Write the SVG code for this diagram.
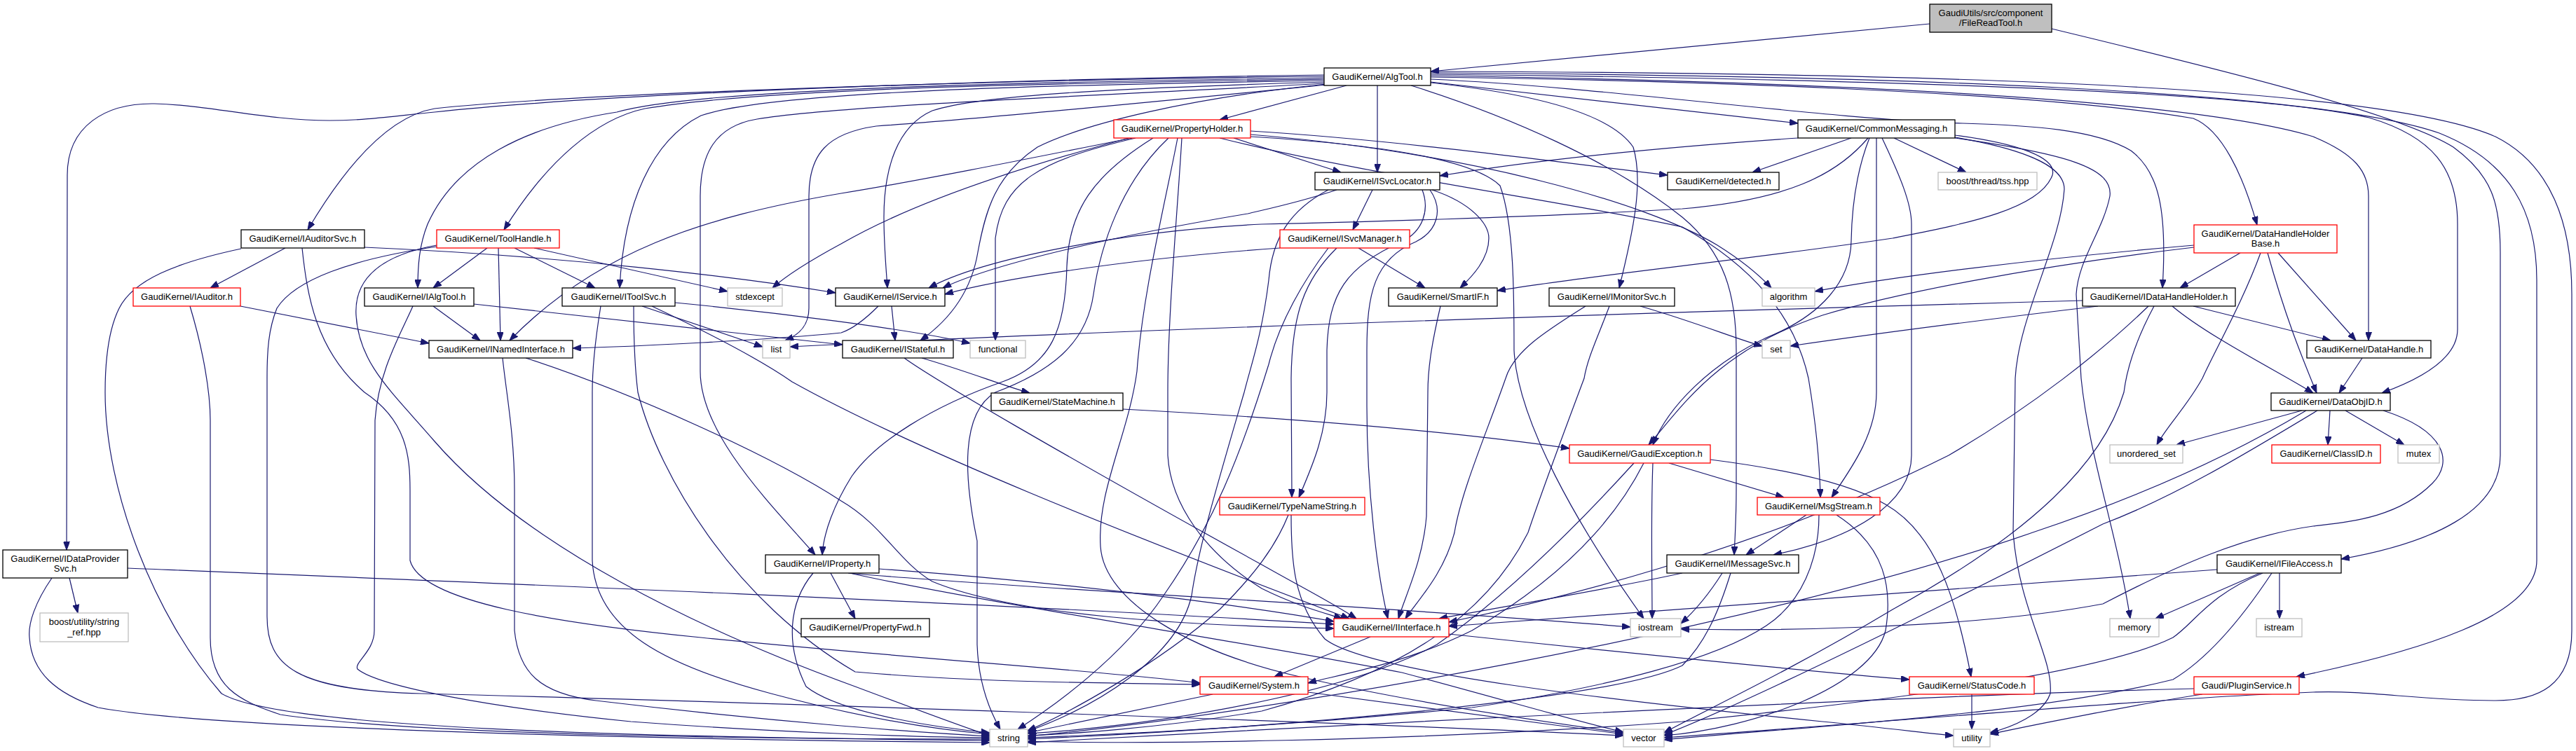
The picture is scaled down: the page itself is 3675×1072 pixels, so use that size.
<svg xmlns="http://www.w3.org/2000/svg" width="3675" height="1072" viewBox="0 0 3675 1072">
<style>
.n rect{fill:#fff;stroke:#000;stroke-width:1.3}
.n.r rect{stroke:#f00}
.n.g rect{stroke:#bfbfbf}
.n.root rect{fill:#bfbfbf}
text{font-family:"Liberation Sans",Arial,sans-serif;font-size:13px;text-anchor:middle;fill:#000}
#edges path{fill:none;stroke:#191970;stroke-width:1.2;marker-end:url(#a)}
</style>
<defs>
<marker id="a" markerWidth="12" markerHeight="9" refX="12" refY="4.5" orient="auto" markerUnits="userSpaceOnUse"><path d="M0,0 L12,4.5 L0,9 z" fill="#191970" stroke="#191970" stroke-width="1"/></marker>
</defs>
<rect width="3675" height="1072" fill="#fff"/>
<g id="edges">
<path d="M2753,34 L2041,102"/>
<path d="M2927,41 C3150,95 3420,160 3500,210 C3555,250 3567,290 3567,360 L3567,650 C3567,730 3470,775 3340,798"/>
<path d="M1921,122 L1740,171"/>
<path d="M2041,117 L2565,176"/>
<path d="M1965,122 L1965,246"/>
<path d="M1889,107 C1500,112 900,130 620,160 C560,166 520,172 470,172 C380,172 300,150 220,148 C150,147 96,180 96,250 L95,785"/>
<path d="M1889,109 C1400,114 800,135 620,155 C560,165 500,225 439,328"/>
<path d="M1889,111 C1500,117 1000,125 880,160 C750,180 650,230 610,320 C598,350 596,380 596,411"/>
<path d="M1889,113 C1500,119 1100,125 920,155 C850,170 780,230 719,328"/>
<path d="M1889,115 C1500,121 1100,130 1000,165 C930,200 890,290 884,411"/>
<path d="M1893,121 C1700,140 1400,170 1250,180 C1180,190 1154,220 1154,280 L1154,440 C1154,465 1140,478 1120,486"/>
<path d="M1890,117 C1600,126 1400,135 1330,158 C1280,180 1261,240 1261,310 C1261,350 1264,380 1266,411"/>
<path d="M1892,120 C1700,140 1550,175 1480,210 C1420,250 1406,300 1395,360 C1385,420 1350,460 1313,486"/>
<path d="M1890,119 C1600,135 1200,150 1080,170 C1020,180 999,220 999,280 L999,530 C999,620 1100,720 1163,792"/>
<path d="M2041,118 C2200,135 2300,165 2330,210 C2345,260 2330,330 2310,411"/>
<path d="M2013,122 C2150,165 2300,230 2400,310 C2460,360 2477,420 2477,500 L2477,700 C2477,740 2475,770 2474,792"/>
<path d="M2041,110 C2400,115 2900,130 3129,169 C3170,185 3200,250 3220,321"/>
<path d="M2041,113 C2300,125 2600,170 2800,176 C2900,179 2990,185 3040,215 C3080,245 3092,300 3085,411"/>
<path d="M2041,108 C2500,115 3100,135 3300,195 C3360,220 3379,245 3379,280 L3379,486"/>
<path d="M2041,106 C2600,112 3200,128 3380,168 C3470,195 3506,240 3506,320 L3506,470 C3506,505 3470,535 3398,561"/>
<path d="M2041,104 C2700,108 3300,128 3480,190 C3580,230 3619,300 3619,400 L3619,800 C3619,880 3450,930 3276,966"/>
<path d="M2041,102 C2800,104 3400,125 3560,195 C3640,235 3669,320 3669,420 L3669,900 C3669,980 3620,1000 3560,1000 C3450,1000 3380,985 3300,988 C3100,995 2700,1030 2374,1053"/>
<path d="M1760,197 L1913,246"/>
<path d="M1784,187 C2000,200 2250,235 2379,250"/>
<path d="M1784,192 C2100,218 2350,290 2450,350 C2490,375 2512,395 2527,411"/>
<path d="M1740,197 C1950,250 2250,290 2400,324 C2500,380 2560,450 2580,540 C2590,600 2596,660 2597,710"/>
<path d="M1611,197 C1450,240 1300,290 1200,348 C1150,375 1120,395 1102,411"/>
<path d="M1615,197 C1450,230 1300,260 1200,276 C1000,310 850,360 727,486"/>
<path d="M1620,197 C1480,230 1430,260 1420,340 L1420,486"/>
<path d="M1645,197 C1560,250 1525,300 1522,380 C1520,470 1500,520 1430,545 C1330,580 1250,630 1215,680 C1190,720 1175,760 1173,792"/>
<path d="M1667,197 C1600,260 1570,350 1560,420 C1550,490 1500,530 1420,560 C1370,590 1375,680 1394,772 L1394,920 C1396,980 1415,1020 1427,1041"/>
<path d="M1680,197 C1660,300 1630,420 1622,530 C1610,620 1565,700 1570,780 C1575,860 1700,930 1850,965 C2000,1000 2200,1030 2316,1046"/>
<path d="M1686,197 C1680,300 1666,450 1666,560 L1666,650 C1670,720 1720,790 1800,840 C1850,865 1890,875 1915,883"/>
<path d="M1784,195 C1950,205 2100,225 2140,265 C2160,320 2160,420 2160,500 C2165,600 2250,750 2345,883"/>
<path d="M2565,197 C2300,215 2150,235 2054,251"/>
<path d="M2641,197 L2500,246"/>
<path d="M2702,197 L2805,246"/>
<path d="M2665,197 C2620,250 2550,285 2400,298 C2200,310 1900,318 1800,320 C1600,330 1400,370 1325,411"/>
<path d="M2789,193 C2880,205 2935,225 2928,250 C2910,300 2800,320 2700,340 C2500,370 2250,395 2136,415"/>
<path d="M2667,197 C2650,240 2642,290 2641,344 C2640,400 2600,450 2520,482 C2440,520 2380,580 2358,635"/>
<path d="M2677,197 L2677,560 C2677,620 2640,670 2613,710"/>
<path d="M2685,197 C2710,250 2727,290 2727,320 L2727,650 C2727,720 2640,770 2530,792"/>
<path d="M2789,196 C2900,215 2945,240 2945,270 C2940,350 2880,450 2875,540 L2872,760 C2880,870 2930,940 2925,990 C2915,1020 2870,1038 2839,1046"/>
<path d="M2789,197 C2950,220 3015,240 3010,280 C3000,330 2965,370 2962,420 L2969,540 C2980,650 3020,760 3039,883"/>
<path d="M1958,271 L1930,328"/>
<path d="M2043,271 C2100,290 2124,320 2124,340 C2124,370 2100,395 2083,411"/>
<path d="M1907,271 C1850,290 1800,300 1780,305 C1600,335 1420,375 1345,411"/>
<path d="M2029,271 C2040,300 2030,330 2000,345 C1920,380 1895,420 1893,500 L1893,560 C1893,620 1870,670 1853,710"/>
<path d="M2040,271 C2060,300 2050,330 2020,345 C1960,370 1950,420 1950,500 L1950,580 C1950,700 1965,820 1980,883"/>
<path d="M1895,271 C1840,300 1815,340 1810,400 C1800,480 1785,520 1775,560 C1740,680 1710,780 1700,850 C1680,940 1560,1010 1466,1044"/>
<path d="M1826,354 C1600,370 1420,400 1348,420"/>
<path d="M1938,354 L2033,411"/>
<path d="M1907,354 C1860,400 1843,450 1842,540 L1843,710"/>
<path d="M1895,354 C1860,400 1825,460 1810,520 C1770,650 1730,750 1660,850 C1600,940 1500,1010 1452,1041"/>
<path d="M407,354 L300,411"/>
<path d="M520,353 C800,365 1050,395 1192,418"/>
<path d="M344,355 C250,375 190,400 170,440 C150,480 150,540 150,560 C150,700 220,880 316,990 C400,1040 900,1052 1412,1057"/>
<path d="M431,354 C438,420 450,500 520,560 C580,600 585,650 585,700 L585,800 C600,860 800,890 1000,910 C1300,940 1600,960 1712,975"/>
<path d="M343,437 L612,490"/>
<path d="M271,437 C290,500 300,560 300,600 L300,910 C300,980 340,1000 400,1020 C600,1050 1100,1055 1412,1055"/>
<path d="M618,437 L685,486"/>
<path d="M676,434 C900,460 1100,480 1202,492"/>
<path d="M589,437 C570,480 540,530 535,600 L534,900 C534,930 505,945 510,955 C540,980 700,1010 900,1030 C1100,1045 1300,1052 1412,1053"/>
<path d="M695,354 L618,411"/>
<path d="M711,354 L714,486"/>
<path d="M734,354 L849,411"/>
<path d="M762,354 L1038,416"/>
<path d="M623,350 C540,365 505,400 508,450 C512,520 560,560 620,630 C750,780 1000,900 1220,980 C1300,1010 1380,1040 1412,1050"/>
<path d="M623,352 C500,370 420,400 395,440 C383,470 381,500 381,540 L381,880 C381,950 420,985 600,990 C1000,1000 1900,1030 2316,1050"/>
<path d="M916,437 L1088,495"/>
<path d="M963,432 C1100,445 1300,470 1384,490"/>
<path d="M857,437 C850,480 845,520 845,560 L845,800 C850,900 950,950 1100,990 C1250,1030 1350,1043 1412,1048"/>
<path d="M904,437 C904,480 905,520 910,560 C940,680 1050,860 1220,959 C1400,975 1600,975 1712,977"/>
<path d="M930,437 C1000,470 1080,510 1130,545 C1300,640 1600,760 1925,883"/>
<path d="M1272,437 L1277,486"/>
<path d="M1253,437 C1230,460 1215,470 1200,475 C1100,485 900,495 817,497"/>
<path d="M1315,511 C1380,530 1430,550 1469,561"/>
<path d="M1290,511 C1330,540 1500,640 1800,806 C1860,840 1900,860 1935,883"/>
<path d="M1602,584 C1900,600 2100,620 2239,640"/>
<path d="M2055,437 C2045,480 2037,520 2037,560 L2035,737 C2030,800 2005,850 1995,883"/>
<path d="M2340,437 C2420,460 2480,485 2514,494"/>
<path d="M2262,437 C2210,470 2160,500 2148,540 C2120,620 2085,700 2075,760 C2060,820 2020,860 2005,883"/>
<path d="M2296,437 C2280,480 2265,510 2260,540 C2230,620 2200,700 2180,760 C2120,880 2000,960 1800,1015 C1650,1040 1520,1048 1466,1050"/>
<path d="M2381,661 L2545,710"/>
<path d="M2358,661 C2355,740 2357,820 2357,883"/>
<path d="M2440,656 C2550,670 2640,690 2690,720 C2760,760 2790,850 2812,966"/>
<path d="M2331,661 C2250,750 2150,850 2050,920 C1900,1000 1600,1040 1466,1047"/>
<path d="M2345,661 C2300,750 2220,830 2100,900 C2000,950 1900,965 1866,975"/>
<path d="M1838,735 C1820,780 1790,820 1740,870 C1650,950 1520,1020 1466,1043"/>
<path d="M1842,735 C1842,800 1845,860 1890,912 C1950,960 2300,1000 2600,1030 C2700,1040 2760,1048 2787,1050"/>
<path d="M2577,735 L2491,792"/>
<path d="M2595,735 C2595,800 2570,860 2520,893 C2450,940 2300,980 2100,1010 C1800,1040 1550,1050 1466,1053"/>
<path d="M2620,735 C2690,780 2700,840 2690,900 C2670,980 2500,1040 2374,1050"/>
<path d="M2400,818 C2300,840 2150,865 2053,883"/>
<path d="M2457,818 C2440,845 2420,870 2398,890"/>
<path d="M2469,818 C2450,880 2430,920 2400,950 C2300,1000 1800,1040 1466,1055"/>
<path d="M1955,909 L1818,966"/>
<path d="M2067,905 C2300,930 2600,960 2724,970"/>
<path d="M1730,991 L1466,1046"/>
<path d="M1866,988 L2316,1048"/>
<path d="M2813,991 L2813,1041"/>
<path d="M1185,818 L1220,883"/>
<path d="M1254,812 C1500,830 1750,860 1903,887"/>
<path d="M1210,818 C1450,840 1900,860 2326,895"/>
<path d="M1212,818 C1400,860 1800,920 2000,960 C2150,1000 2250,1030 2316,1045"/>
<path d="M1160,818 C1125,860 1120,920 1150,980 C1200,1020 1350,1040 1412,1046"/>
<path d="M99,825 L111,875"/>
<path d="M74,825 C50,860 40,890 42,910 C45,960 80,990 140,1010 C300,1040 900,1055 1412,1060"/>
<path d="M182,811 C600,828 1400,860 1903,891"/>
<path d="M2971,429 C2400,445 1600,470 1127,495"/>
<path d="M2993,437 C2800,460 2650,480 2554,494"/>
<path d="M3129,437 L3325,486"/>
<path d="M3099,437 C3150,480 3250,530 3300,561"/>
<path d="M3065,437 C3000,500 2900,580 2780,650 C2500,790 2200,860 2067,888"/>
<path d="M3073,437 C3050,480 3035,520 3030,560 C3000,660 2900,760 2700,870 C2550,960 2420,1020 2374,1046"/>
<path d="M3130,350 C2900,370 2700,395 2589,416"/>
<path d="M3130,353 C2900,380 2700,420 2600,450 C2450,500 2400,580 2352,635"/>
<path d="M3196,361 L3110,411"/>
<path d="M3250,361 L3361,486"/>
<path d="M3235,361 C3260,450 3280,500 3305,561"/>
<path d="M3225,361 C3200,430 3160,500 3142,540 C3120,580 3090,610 3077,635"/>
<path d="M3370,511 L3337,561"/>
<path d="M3284,586 L3105,635"/>
<path d="M3324,586 L3321,635"/>
<path d="M3346,586 L3430,635"/>
<path d="M3290,586 C3200,640 3080,700 2900,760 C2500,900 1800,1020 1466,1051"/>
<path d="M3400,586 C3490,615 3500,660 3470,690 C3420,740 3350,745 3300,751 C3200,765 3100,810 3000,862 C2800,900 2500,900 2398,898"/>
<path d="M3306,586 C3200,650 3100,710 3000,748 C2800,850 2500,1000 2374,1049"/>
<path d="M3163,813 C2900,830 2500,860 2067,894"/>
<path d="M3224,818 L3075,883"/>
<path d="M3252,818 L3252,883"/>
<path d="M3228,818 C3150,850 3130,890 3100,910 C3000,960 2700,1000 2400,1030 C2000,1060 1600,1062 1466,1058"/>
<path d="M3241,818 C3200,880 3150,940 3100,970 C2900,1020 2600,1035 2374,1056"/>
<path d="M3130,983 C2800,990 2000,1030 1466,1060"/>
<path d="M3142,991 C3050,1005 2900,1035 2839,1048"/>
<path d="M717,511 C722,560 734,620 734,700 L734,900 C740,960 770,990 850,1000 C1100,1030 1300,1045 1412,1051"/>
<path d="M750,511 C900,560 1100,650 1200,715 C1260,750 1280,800 1330,830 C1450,880 1700,893 1903,897"/>
</g>
<g id="root" class="n root"><rect x="2753" y="6" width="174" height="40"/><text x="2840" y="23">GaudiUtils/src/component</text><text x="2840" y="37">/FileReadTool.h</text></g>
<g id="AlgTool" class="n"><rect x="1889" y="97" width="152" height="25"/><text x="1965" y="114">GaudiKernel/AlgTool.h</text></g>
<g id="PropertyHolder" class="n r"><rect x="1589" y="171" width="195" height="26"/><text x="1686.5" y="188">GaudiKernel/PropertyHolder.h</text></g>
<g id="CommonMessaging" class="n"><rect x="2565" y="171" width="224" height="26"/><text x="2677" y="188">GaudiKernel/CommonMessaging.h</text></g>
<g id="ISvcLocator" class="n"><rect x="1876" y="246" width="178" height="25"/><text x="1965" y="263">GaudiKernel/ISvcLocator.h</text></g>
<g id="detected" class="n"><rect x="2379" y="246" width="159" height="25"/><text x="2458.5" y="263">GaudiKernel/detected.h</text></g>
<g id="tss" class="n g"><rect x="2765" y="246" width="141" height="25"/><text x="2835.5" y="263">boost/thread/tss.hpp</text></g>
<g id="IAuditorSvc" class="n"><rect x="344" y="328" width="176" height="26"/><text x="432" y="345">GaudiKernel/IAuditorSvc.h</text></g>
<g id="ToolHandle" class="n r"><rect x="623" y="328" width="175" height="26"/><text x="710.5" y="345">GaudiKernel/ToolHandle.h</text></g>
<g id="ISvcManager" class="n r"><rect x="1826" y="328" width="185" height="26"/><text x="1918.5" y="345">GaudiKernel/ISvcManager.h</text></g>
<g id="DataHandleHolderBase" class="n r"><rect x="3130" y="321" width="204" height="40"/><text x="3232" y="338">GaudiKernel/DataHandleHolder</text><text x="3232" y="352">Base.h</text></g>
<g id="IAuditor" class="n r"><rect x="190" y="411" width="153" height="26"/><text x="266.5" y="428">GaudiKernel/IAuditor.h</text></g>
<g id="IAlgTool" class="n"><rect x="520" y="411" width="156" height="26"/><text x="598" y="428">GaudiKernel/IAlgTool.h</text></g>
<g id="IToolSvc" class="n"><rect x="802" y="411" width="161" height="26"/><text x="882.5" y="428">GaudiKernel/IToolSvc.h</text></g>
<g id="stdexcept" class="n g"><rect x="1038" y="411" width="78" height="26"/><text x="1077" y="428">stdexcept</text></g>
<g id="IService" class="n"><rect x="1192" y="411" width="156" height="26"/><text x="1270" y="428">GaudiKernel/IService.h</text></g>
<g id="SmartIF" class="n"><rect x="1981" y="411" width="155" height="26"/><text x="2058.5" y="428">GaudiKernel/SmartIF.h</text></g>
<g id="IMonitorSvc" class="n"><rect x="2210" y="411" width="179" height="26"/><text x="2299.5" y="428">GaudiKernel/IMonitorSvc.h</text></g>
<g id="algorithm" class="n g"><rect x="2514" y="411" width="75" height="26"/><text x="2551.5" y="428">algorithm</text></g>
<g id="IDataHandleHolder" class="n"><rect x="2971" y="411" width="218" height="26"/><text x="3080" y="428">GaudiKernel/IDataHandleHolder.h</text></g>
<g id="INamedInterface" class="n"><rect x="612" y="486" width="205" height="25"/><text x="714.5" y="503">GaudiKernel/INamedInterface.h</text></g>
<g id="list" class="n g"><rect x="1088" y="486" width="39" height="25"/><text x="1107.5" y="503">list</text></g>
<g id="IStateful" class="n"><rect x="1202" y="486" width="158" height="25"/><text x="1281" y="503">GaudiKernel/IStateful.h</text></g>
<g id="functional" class="n g"><rect x="1384" y="486" width="79" height="25"/><text x="1423.5" y="503">functional</text></g>
<g id="set" class="n g"><rect x="2514" y="486" width="40" height="25"/><text x="2534" y="503">set</text></g>
<g id="DataHandle" class="n"><rect x="3291" y="486" width="177" height="25"/><text x="3379.5" y="503">GaudiKernel/DataHandle.h</text></g>
<g id="StateMachine" class="n"><rect x="1414" y="561" width="188" height="25"/><text x="1508" y="578">GaudiKernel/StateMachine.h</text></g>
<g id="DataObjID" class="n"><rect x="3240" y="561" width="170" height="25"/><text x="3325" y="578">GaudiKernel/DataObjID.h</text></g>
<g id="GaudiException" class="n r"><rect x="2239" y="635" width="201" height="26"/><text x="2339.5" y="652">GaudiKernel/GaudiException.h</text></g>
<g id="unordered_set" class="n g"><rect x="3010" y="635" width="104" height="26"/><text x="3062" y="652">unordered_set</text></g>
<g id="ClassID" class="n r"><rect x="3241" y="635" width="155" height="26"/><text x="3318.5" y="652">GaudiKernel/ClassID.h</text></g>
<g id="mutex" class="n g"><rect x="3421" y="635" width="59" height="26"/><text x="3450.5" y="652">mutex</text></g>
<g id="TypeNameString" class="n r"><rect x="1740" y="710" width="207" height="25"/><text x="1843.5" y="727">GaudiKernel/TypeNameString.h</text></g>
<g id="MsgStream" class="n r"><rect x="2507" y="710" width="175" height="25"/><text x="2594.5" y="727">GaudiKernel/MsgStream.h</text></g>
<g id="IDataProviderSvc" class="n"><rect x="4" y="785" width="178" height="40"/><text x="93" y="802">GaudiKernel/IDataProvider</text><text x="93" y="816">Svc.h</text></g>
<g id="IProperty" class="n"><rect x="1092" y="792" width="162" height="26"/><text x="1173" y="809">GaudiKernel/IProperty.h</text></g>
<g id="IMessageSvc" class="n"><rect x="2378" y="792" width="188" height="26"/><text x="2472" y="809">GaudiKernel/IMessageSvc.h</text></g>
<g id="IFileAccess" class="n"><rect x="3163" y="792" width="177" height="26"/><text x="3251.5" y="809">GaudiKernel/IFileAccess.h</text></g>
<g id="string_ref" class="n g"><rect x="57" y="875" width="126" height="41"/><text x="120" y="892">boost/utility/string</text><text x="120" y="907">_ref.hpp</text></g>
<g id="PropertyFwd" class="n"><rect x="1143" y="883" width="183" height="26"/><text x="1234.5" y="900">GaudiKernel/PropertyFwd.h</text></g>
<g id="IInterface" class="n r"><rect x="1903" y="883" width="164" height="26"/><text x="1985" y="900">GaudiKernel/IInterface.h</text></g>
<g id="iostream" class="n g"><rect x="2326" y="883" width="72" height="26"/><text x="2362" y="900">iostream</text></g>
<g id="memory" class="n g"><rect x="3010" y="883" width="70" height="26"/><text x="3045" y="900">memory</text></g>
<g id="istream" class="n g"><rect x="3219" y="883" width="65" height="26"/><text x="3251.5" y="900">istream</text></g>
<g id="System" class="n r"><rect x="1712" y="966" width="154" height="25"/><text x="1789" y="983">GaudiKernel/System.h</text></g>
<g id="StatusCode" class="n r"><rect x="2724" y="966" width="178" height="25"/><text x="2813" y="983">GaudiKernel/StatusCode.h</text></g>
<g id="PluginService" class="n r"><rect x="3130" y="966" width="150" height="25"/><text x="3205" y="983">Gaudi/PluginService.h</text></g>
<g id="string" class="n g"><rect x="1412" y="1041" width="54" height="25"/><text x="1439" y="1058">string</text></g>
<g id="vector" class="n g"><rect x="2316" y="1041" width="58" height="25"/><text x="2345" y="1058">vector</text></g>
<g id="utility" class="n g"><rect x="2787" y="1041" width="52" height="25"/><text x="2813" y="1058">utility</text></g>
</svg>
